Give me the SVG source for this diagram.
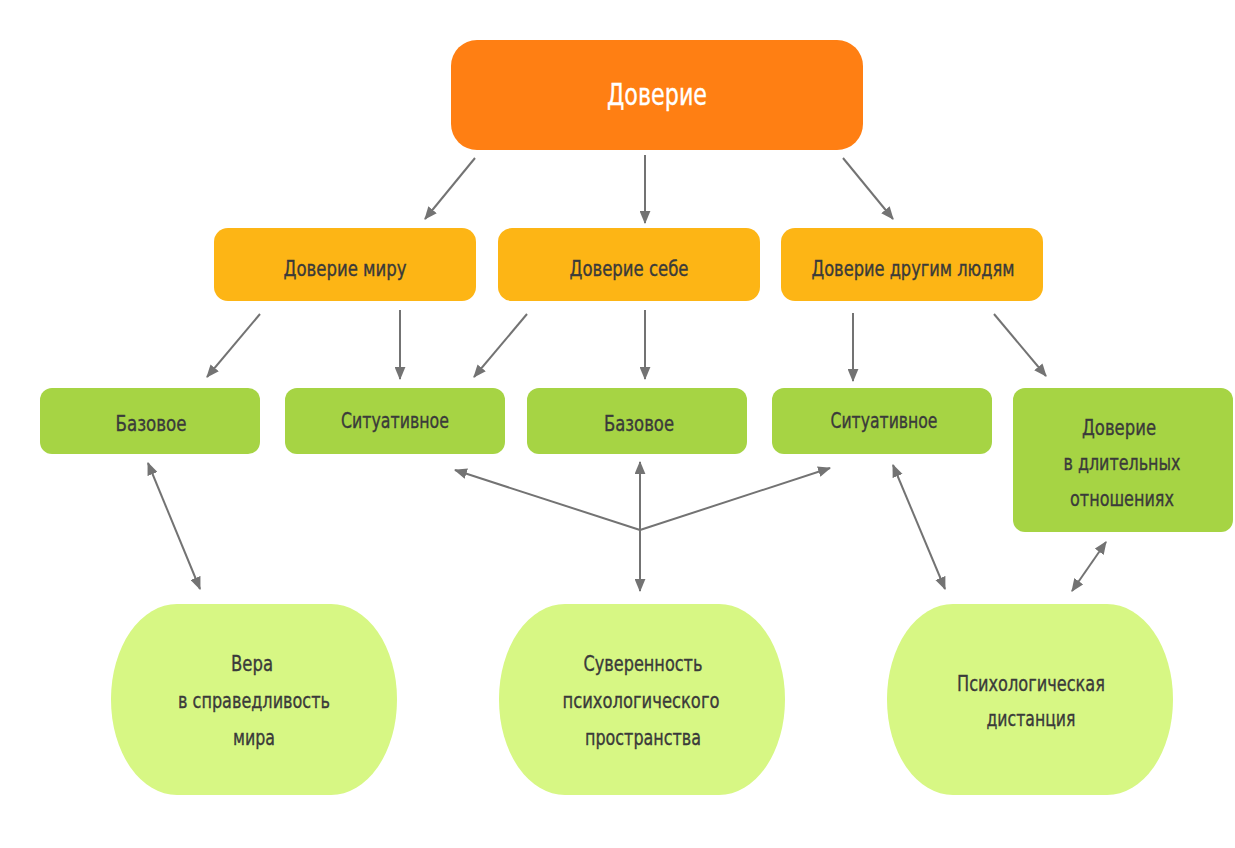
<svg xmlns="http://www.w3.org/2000/svg" width="1235" height="848" viewBox="0 0 1235 848">
<defs>
<marker id="ah" viewBox="0 0 12 10" refX="11" refY="5" markerWidth="13" markerHeight="11" markerUnits="userSpaceOnUse" orient="auto-start-reverse">
<path d="M0,0 L12,5 L0,10 z" fill="#737373"/>
</marker>
<style>
.t{font-family:"DejaVu Sans Condensed","Liberation Sans Narrow","Liberation Sans",sans-serif;text-anchor:middle;fill:#3a3a3a;stroke:#3a3a3a;stroke-width:0.35;font-size:22px}
.w{fill:#ffffff;stroke:#ffffff;font-size:31px}
.top{fill:#ff7f13}
.l2{fill:#fdb515}
.l3{fill:#a6d444}
.l4{fill:#d7f784}
.c{stroke:#737373;stroke-width:2;fill:none}
.a{marker-end:url(#ah)}
.b{marker-start:url(#ah);marker-end:url(#ah)}
</style>
</defs>
<rect width="1235" height="848" fill="#ffffff"/>
<g id="n-doverie">
<rect class="top" x="451" y="40" width="412" height="110" rx="26"/>
<text class="t w" x="657" y="105" textLength="100" lengthAdjust="spacingAndGlyphs">Доверие</text>
</g>
<g id="n-miru">
<rect class="l2" x="214" y="228" width="262" height="73" rx="14"/>
<text class="t" x="345" y="276" textLength="123" lengthAdjust="spacingAndGlyphs">Доверие миру</text>
</g>
<g id="n-sebe">
<rect class="l2" x="498" y="228" width="262" height="73" rx="14"/>
<text class="t" x="629" y="276" textLength="119" lengthAdjust="spacingAndGlyphs">Доверие себе</text>
</g>
<g id="n-drugim">
<rect class="l2" x="781" y="228" width="262" height="73" rx="14"/>
<text class="t" x="913" y="276" textLength="203" lengthAdjust="spacingAndGlyphs">Доверие другим людям</text>
</g>
<g id="n-baz1">
<rect class="l3" x="40" y="388" width="220" height="66" rx="12"/>
<text class="t" x="151" y="431" textLength="71" lengthAdjust="spacingAndGlyphs">Базовое</text>
</g>
<g id="n-sit1">
<rect class="l3" x="285" y="388" width="220" height="66" rx="12"/>
<text class="t" x="395" y="428" textLength="108" lengthAdjust="spacingAndGlyphs">Ситуативное</text>
</g>
<g id="n-baz2">
<rect class="l3" x="527" y="388" width="220" height="66" rx="12"/>
<text class="t" x="639" y="431" textLength="70" lengthAdjust="spacingAndGlyphs">Базовое</text>
</g>
<g id="n-sit2">
<rect class="l3" x="772" y="388" width="220" height="66" rx="12"/>
<text class="t" x="884" y="428" textLength="107" lengthAdjust="spacingAndGlyphs">Ситуативное</text>
</g>
<g id="n-dlit">
<rect class="l3" x="1013" y="388" width="220" height="144" rx="12"/>
<text class="t" x="1119" y="435" textLength="74" lengthAdjust="spacingAndGlyphs">Доверие</text>
<text class="t" x="1122" y="470" textLength="117" lengthAdjust="spacingAndGlyphs">в длительных</text>
<text class="t" x="1122" y="506" textLength="104" lengthAdjust="spacingAndGlyphs">отношениях</text>
</g>
<g id="n-vera">
<rect class="l4" x="111" y="604" width="286" height="191" rx="66" ry="95"/>
<text class="t" x="252" y="671" textLength="42" lengthAdjust="spacingAndGlyphs">Вера</text>
<text class="t" x="254" y="708" textLength="152" lengthAdjust="spacingAndGlyphs">в справедливость</text>
<text class="t" x="254" y="745" textLength="42" lengthAdjust="spacingAndGlyphs">мира</text>
</g>
<g id="n-suver">
<rect class="l4" x="499" y="604" width="286" height="191" rx="66" ry="95"/>
<text class="t" x="643" y="671" textLength="119" lengthAdjust="spacingAndGlyphs">Суверенность</text>
<text class="t" x="641" y="708" textLength="157" lengthAdjust="spacingAndGlyphs">психологического</text>
<text class="t" x="643" y="745" textLength="116" lengthAdjust="spacingAndGlyphs">пространства</text>
</g>
<g id="n-dist">
<rect class="l4" x="887" y="604" width="286" height="191" rx="66" ry="95"/>
<text class="t" x="1031" y="691" textLength="148" lengthAdjust="spacingAndGlyphs">Психологическая</text>
<text class="t" x="1031" y="726" textLength="89" lengthAdjust="spacingAndGlyphs">дистанция</text>
</g>
<g id="connectors">
<line class="c a" x1="475" y1="158" x2="425" y2="219"/>
<line class="c a" x1="645" y1="155" x2="645" y2="223"/>
<line class="c a" x1="843" y1="158" x2="893" y2="219"/>
<line class="c a" x1="260" y1="314" x2="207" y2="377"/>
<line class="c a" x1="400" y1="310" x2="400" y2="379"/>
<line class="c a" x1="527" y1="314" x2="474" y2="377"/>
<line class="c a" x1="645" y1="310" x2="645" y2="379"/>
<line class="c a" x1="853" y1="313" x2="853" y2="381"/>
<line class="c a" x1="994" y1="314" x2="1046" y2="376"/>
<line class="c b" x1="148" y1="463" x2="200" y2="589"/>
<line class="c a" x1="640" y1="530" x2="455" y2="470"/>
<line class="c a" x1="640" y1="530" x2="830" y2="468"/>
<line class="c b" x1="640" y1="462" x2="640" y2="591"/>
<line class="c b" x1="893" y1="465" x2="945" y2="589"/>
<line class="c b" x1="1106" y1="542" x2="1072" y2="591"/>
</g>
</svg>
